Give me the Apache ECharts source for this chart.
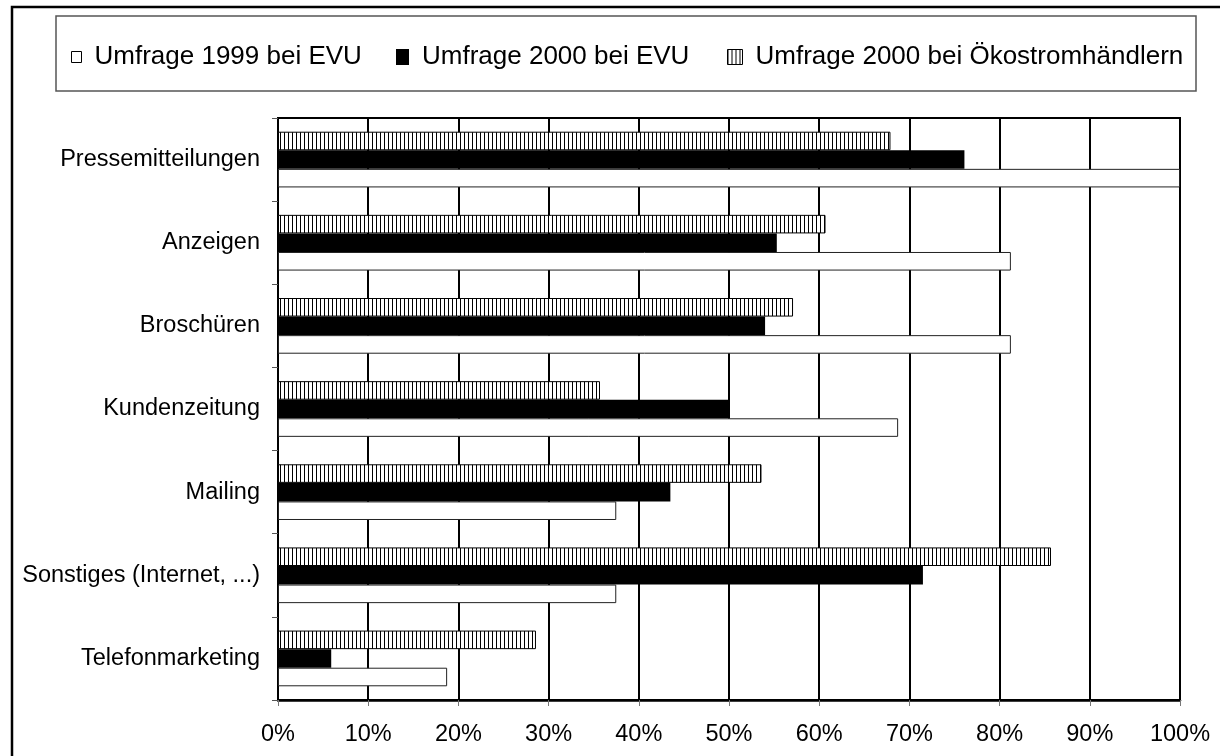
<!DOCTYPE html>
<html>
<head>
<meta charset="utf-8">
<script src="https://cdn.jsdelivr.net/npm/echarts@6/dist/echarts.min.js"></script>
<style>
html,body{margin:0;padding:0;background:#fff;}
#chart{width:1220px;height:756px;}
</style>
</head>
<body>
<div id="chart"></div>
<script>
const categories = ['Pressemitteilungen','Anzeigen','Broschüren','Kundenzeitung','Mailing','Sonstiges (Internet, ...)','Telefonmarketing'];
const seriesNames = ['Umfrage 1999 bei EVU','Umfrage 2000 bei EVU','Umfrage 2000 bei Ökostromhändlern'];
const evu1999 = [100, 81.25, 81.25, 68.75, 37.5, 37.5, 18.75];
const evu2000 = [76.1, 55.3, 54.0, 50.0, 43.5, 71.5, 5.9];
const oeko2000 = [67.9, 60.7, 57.1, 35.7, 53.6, 85.7, 28.6];
const xTicks = [0,10,20,30,40,50,60,70,80,90,100];

const FONT = '"Liberation Sans", Arial, sans-serif';

// vertical hatch pattern
const pc = document.createElement('canvas');
pc.width = 4; pc.height = 4;
const pctx = pc.getContext('2d');
pctx.fillStyle = '#fff'; pctx.fillRect(0,0,4,4);
pctx.fillStyle = '#000'; pctx.fillRect(0,0,1,4);
const hatch = {image: pc, repeat: 'repeat'};

const chart = echarts.init(document.getElementById('chart'), null, {renderer:'canvas'});

function legendFor(name, left, w, h, style){
  return {
    data:[{name:name, icon:'rect', itemStyle:style}],
    left:left, top:58 - 14,
    padding:0, itemWidth:w, itemHeight:h,
    selectedMode:false,
    textStyle:{fontFamily:FONT, fontSize:26, color:'#000', padding:[0,0,0,8]}
  };
}

chart.setOption({
  animation:false,
  backgroundColor:'#fff',
  legend:[
    legendFor(seriesNames[0], 71, 10, 11, {color:'#fff', borderColor:'#000', borderWidth:1}),
    legendFor(seriesNames[1], 396, 13, 16, {color:'#000', borderColor:'#000', borderWidth:0}),
    legendFor(seriesNames[2], 727, 15, 15, {color:hatch, borderColor:'#000', borderWidth:1})
  ],
  grid:{left:278, right:40, top:118, bottom:56, show:true, borderColor:'#000', borderWidth:2, backgroundColor:'transparent'},
  xAxis:{
    type:'value', min:0, max:100, interval:10,
    axisLine:{show:true, lineStyle:{color:'#000', width:2.5}},
    axisTick:{show:true, length:6, lineStyle:{color:'#777', width:1}},
    axisLabel:{formatter:v => xTicks.includes(v) ? v + '%' : '', fontFamily:FONT, fontSize:23.5, color:'#000', margin:23},
    splitLine:{show:true, lineStyle:{color:'#000', width:2}}
  },
  yAxis:{
    type:'category', data:categories, inverse:true,
    axisLine:{show:true, lineStyle:{color:'#000', width:2}},
    axisTick:{show:true, length:6, lineStyle:{color:'#555', width:1}},
    axisLabel:{fontFamily:FONT, fontSize:23.5, color:'#000', margin:18},
    splitLine:{show:false}
  },
  series:[
    {name:seriesNames[2], type:'bar', data:oeko2000, barGap:'0%', barCategoryGap:'33%',
     itemStyle:{color:hatch, borderColor:'#000', borderWidth:1}},
    {name:seriesNames[1], type:'bar', data:evu2000, barGap:'0%', barCategoryGap:'33%',
     itemStyle:{color:'#000', borderColor:'#000', borderWidth:0}},
    {name:seriesNames[0], type:'bar', data:evu1999, barGap:'0%', barCategoryGap:'33%',
     itemStyle:{color:'#fff', borderColor:'#222', borderWidth:1}}
  ],
  graphic:[
    {type:'rect', silent:true, z:0, shape:{x:56, y:16, width:1140, height:75},
     style:{fill:'none', stroke:'#555', lineWidth:1.5}},
    {type:'polyline', silent:true, shape:{points:[[12,760],[12,7],[1225,7]]},
     style:{fill:'none', stroke:'#000', lineWidth:2.5}}
  ]
});
</script>
</body>
</html>
